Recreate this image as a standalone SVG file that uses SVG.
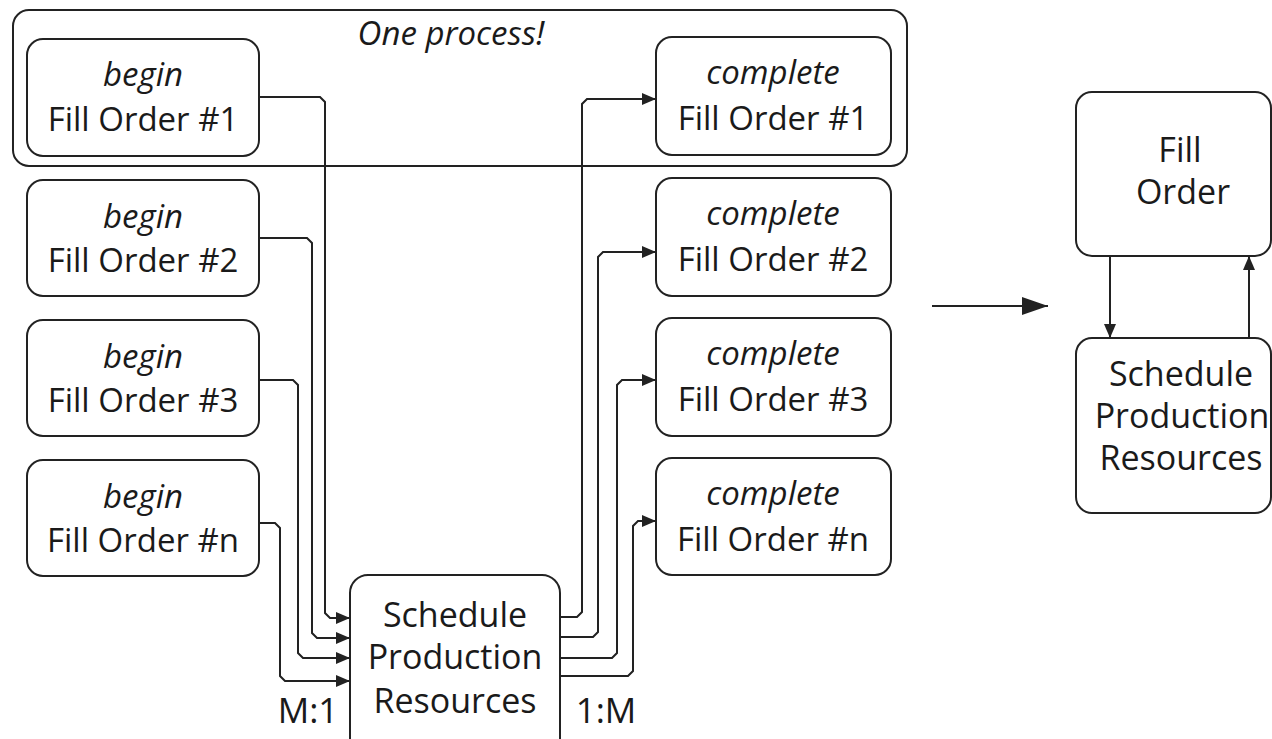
<svg xmlns="http://www.w3.org/2000/svg" width="1272" height="739" viewBox="0 0 1272 739">
<style>
.box{fill:#fff;stroke:#222;stroke-width:2}
.t{font-family:"Open Sans","Noto Sans",sans-serif;font-size:33px;fill:#1a1a1a;text-anchor:middle}
.s{font-size:34px}
.i{font-style:italic}
.c{fill:none;stroke:#222;stroke-width:2}
</style>
<defs>
<marker id="ah" markerUnits="userSpaceOnUse" markerWidth="16" markerHeight="14" refX="14" refY="6" orient="auto">
<path d="M0,0 L14,6 L0,12 z" fill="#222"/>
</marker>
<marker id="ahL" markerUnits="userSpaceOnUse" markerWidth="28" markerHeight="20" refX="26" refY="9" orient="auto">
<path d="M0,0 L26,9 L0,18 z" fill="#222"/>
</marker>
</defs>
<rect width="1272" height="739" fill="#fff"/>
<g id="group-one-process">
<rect class="box" x="13" y="10" width="894" height="156" rx="16"/>
<text class="t i" x="451" y="45">One process!</text>
</g>
<g id="begin1"><rect class="box" x="27" y="39" width="232" height="117" rx="16"/><text class="t i" x="143" y="86">begin</text><text class="t" x="143" y="131">Fill Order #1</text></g>
<g id="begin2"><rect class="box" x="27" y="180" width="232" height="116" rx="16"/><text class="t i" x="143" y="228">begin</text><text class="t" x="143" y="272">Fill Order #2</text></g>
<g id="begin3"><rect class="box" x="27" y="320" width="232" height="116" rx="16"/><text class="t i" x="143" y="368">begin</text><text class="t" x="143" y="412">Fill Order #3</text></g>
<g id="beginn"><rect class="box" x="27" y="460" width="232" height="116" rx="16"/><text class="t i" x="143" y="508">begin</text><text class="t" x="143" y="552">Fill Order #n</text></g>
<g id="complete1"><rect class="box" x="656" y="37" width="235" height="118" rx="16"/><text class="t i" x="773" y="84">complete</text><text class="t" x="773" y="130">Fill Order #1</text></g>
<g id="complete2"><rect class="box" x="656" y="178" width="235" height="118" rx="16"/><text class="t i" x="773" y="225">complete</text><text class="t" x="773" y="271">Fill Order #2</text></g>
<g id="complete3"><rect class="box" x="656" y="318" width="235" height="118" rx="16"/><text class="t i" x="773" y="365">complete</text><text class="t" x="773" y="411">Fill Order #3</text></g>
<g id="completen"><rect class="box" x="656" y="458" width="235" height="117" rx="16"/><text class="t i" x="773" y="505">complete</text><text class="t" x="773" y="551">Fill Order #n</text></g>
<g id="schedule">
<rect class="box" x="350" y="575" width="210" height="185" rx="18"/>
<text class="t s" x="455" y="627">Schedule</text>
<text class="t s" x="455" y="669">Production</text>
<text class="t s" x="455" y="713">Resources</text>
</g>
<g id="fill-order"><rect class="box" x="1076" y="92" width="195" height="164" rx="16"/><text class="t s" x="1180" y="162">Fill</text><text class="t s" x="1183" y="204">Order</text></g>
<g id="schedule-right"><rect class="box" x="1076" y="338" width="195" height="175" rx="16"/><text class="t s" x="1181" y="386">Schedule</text><text class="t s" x="1182" y="428">Production</text><text class="t s" x="1181" y="470">Resources</text></g>
<g id="labels">
<text class="t" x="308" y="723" style="font-size:35px">M:1</text>
<text class="t" x="606" y="723" style="font-size:35px">1:M</text>
</g>
<g id="connectors">
<path class="c" d="M259,97 H320 L325,102 V613 L330,618 H350" marker-end="url(#ah)"/>
<path class="c" d="M259,238 H307 L312,243 V633 L317,638 H350" marker-end="url(#ah)"/>
<path class="c" d="M259,380 H293 L298,385 V653 L303,658 H350" marker-end="url(#ah)"/>
<path class="c" d="M259,523 H275 L280,528 V676 L285,681 H350" marker-end="url(#ah)"/>
<path class="c" d="M560,617 H577 L582,612 V104 L587,99 H656" marker-end="url(#ah)"/>
<path class="c" d="M560,637 H593 L598,632 V257 L603,252 H656" marker-end="url(#ah)"/>
<path class="c" d="M560,658 H612 L617,653 V385 L622,380 H656" marker-end="url(#ah)"/>
<path class="c" d="M560,676 H628 L633,671 V526 L638,521 H656" marker-end="url(#ah)"/>
<path class="c" d="M932,306 H1048" marker-end="url(#ahL)"/>
<path class="c" d="M1110,256 V338" marker-end="url(#ah)"/>
<path class="c" d="M1249,338 V256" marker-end="url(#ah)"/>
</g>
</svg>
